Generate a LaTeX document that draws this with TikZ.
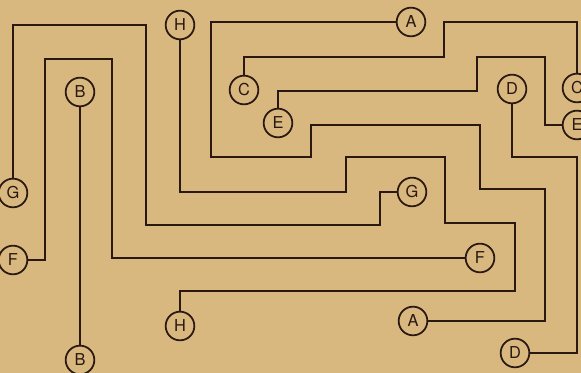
\documentclass[tikz,border=0pt]{standalone}
\usepackage{fontspec}
\setsansfont{TeX Gyre Heros}
\usetikzlibrary{positioning, calc}
\definecolor{mzpaper}{HTML}{D8B87E}
\definecolor{mzink}{HTML}{2A1812}
\tikzset{
  tag/.style={circle, draw=mzink, line width=1.5pt, minimum size=0.86cm, inner sep=0pt,
    font=\sffamily\fontsize{14}{14}\selectfont, text=mzink, fill=mzpaper},
  wire/.style={draw=mzink, line width=2pt, line join=miter},
}

\begin{document}
\begin{tikzpicture}[x=0.03cm, y=-0.03cm]
    \fill[mzpaper] (0,0) rectangle (581,373);
    \useasboundingbox (0,0) rectangle (581,373);

    % end points, top half
    \node[tag] (htop) at (180,25) {H};
    \node[tag] (btop) at (80,92) {B};
    \node[tag] (atop) at (411,22) {A};
    \node[tag] (cleft) at (244,90) {C};
    \node[tag] (eleft) at (278,123) {E};
    \node[tag] (dtop) at (512,89) {D};
    \node[tag] (cright) at (577,88) {C};
    \node[tag] (eright) at (577,125) {E};
    \node[tag] (gleft) at (13,193) {G};
    \node[tag] (fleft) at (13,260) {F};

    % end points, bottom half
    \node[tag] (bbot) at (80,360) {B};
    \node[tag] (hbot) at (180,326) {H};
    \node[tag] (gright) at (412,192) {G};
    \node[tag] (fright) at (480,258) {F};
    \node[tag] (abot) at (413,321) {A};
    \node[tag] (dbot) at (515,353) {D};

    % the eight paths
    \draw[wire] (atop) -- (211,22) -- (211,157) -- (311,157) -- (311,125) -- (480,125)
      -- (480,189) -- (545,189) -- (545,321) -- (abot);
    \draw[wire] (btop) -- (bbot);
    \draw[wire] (cleft) -- (244,57) -- (444,57) -- (444,22) -- (577,22) -- (cright);
    \draw[wire] (dtop) -- (512,157) -- (577,157) -- (577,353) -- (dbot);
    \draw[wire] (eleft) -- (278,91) -- (477,91) -- (477,57) -- (545,57) -- (545,125) -- (eright);
    \draw[wire] (fleft) -- (45,260) -- (45,59) -- (112,59) -- (112,258) -- (fright);
    \draw[wire] (gleft) -- (13,25) -- (146,25) -- (146,225) -- (380,225) -- (380,192) -- (gright);
    \draw[wire] (htop) -- (180,192) -- (346,192) -- (346,157) -- (445,157) -- (445,223)
      -- (515,223) -- (515,291) -- (180,291) -- (hbot);
\end{tikzpicture}
\end{document}
